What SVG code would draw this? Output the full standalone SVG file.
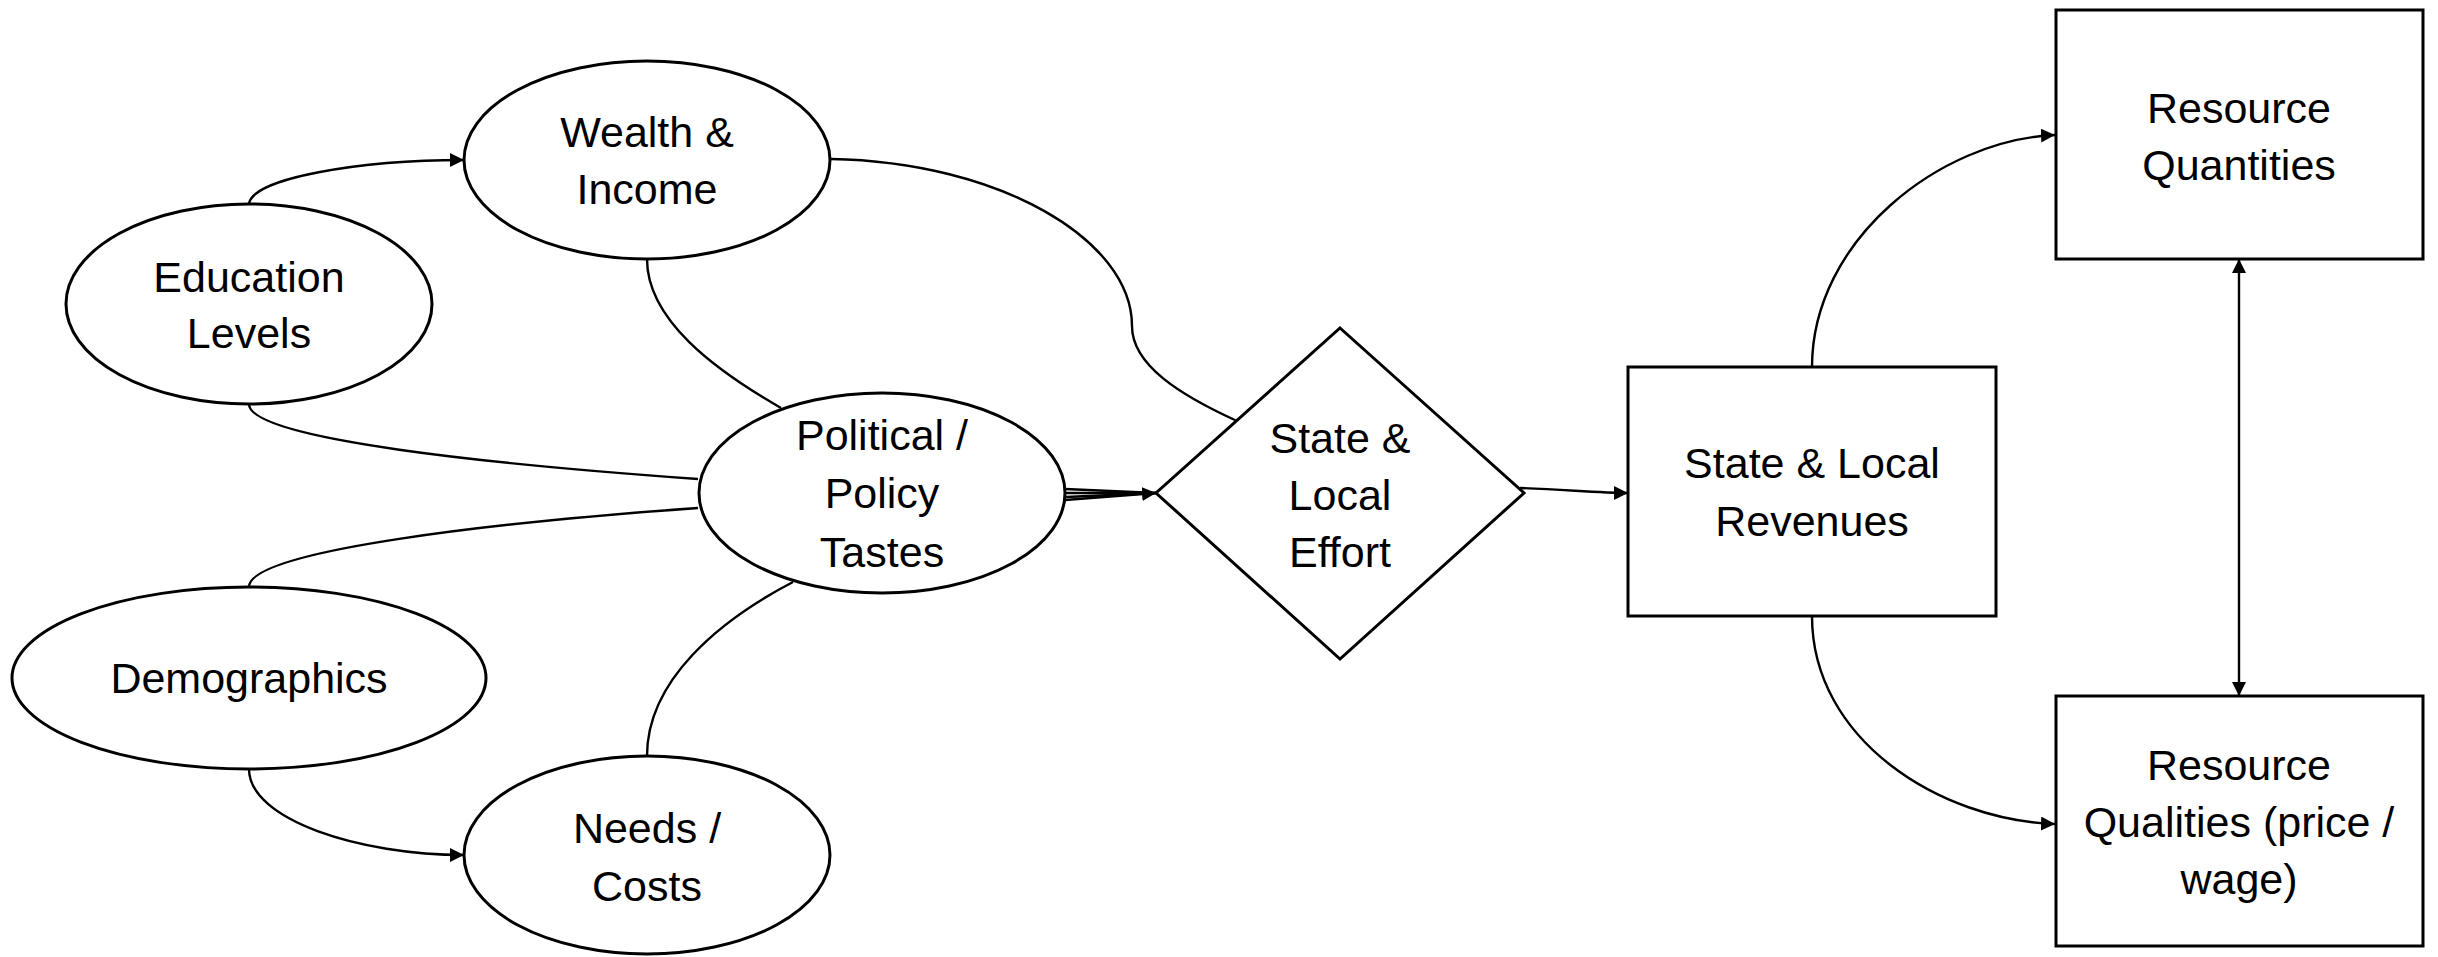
<svg xmlns="http://www.w3.org/2000/svg" width="2438" height="957" viewBox="0 0 2438 957">
<style>
.shape{fill:#fff;stroke:#000;stroke-width:3}
.conn{fill:none;stroke:#000;stroke-width:2.4}
.lbl{font-family:"Liberation Sans",Arial,sans-serif;font-size:43px;fill:#000;text-anchor:middle}
</style>
<defs>
<marker id="arr" markerUnits="userSpaceOnUse" markerWidth="14" markerHeight="14" refX="14" refY="7" orient="auto-start-reverse">
<path d="M0,0 L14,7 L0,14 z" fill="#000"/>
</marker>
</defs>
<rect width="2438" height="957" fill="#fff"/>
<g id="connectors">
<path class="conn" d="M249,204 C252,178 360,160 464,160" marker-end="url(#arr)"/>
<path class="conn" d="M647,259 C647,320 715,370 781,408"/>
<path class="conn" d="M831,159 C1000,162 1132,240 1132,326 C1132,365 1180,395 1237,421"/>
<path class="conn" d="M249,404 C249,440 500,465 698,479"/>
<path class="conn" d="M249,587 C249,550 500,522 698,508"/>
<path class="conn" d="M249,769 C249,820 360,855 464,855" marker-end="url(#arr)"/>
<path class="conn" d="M647,756 C647,680 720,620 793,582"/>
<path class="conn" d="M1065,489 L1156,493"/>
<path class="conn" d="M1066,493 L1156,493"/>
<path class="conn" d="M1066,497 L1156,493"/>
<path class="conn" d="M1065,500 L1156,493" marker-end="url(#arr)"/>
<path class="conn" d="M1520,488 C1570,490 1600,493 1628,493" marker-end="url(#arr)"/>
<path class="conn" d="M1812,367 C1812,240 1940,140 2055,135" marker-end="url(#arr)"/>
<path class="conn" d="M1812,616 C1812,740 1940,820 2055,824" marker-end="url(#arr)"/>
<path class="conn" d="M2239,259 L2239,696" marker-start="url(#arr)" marker-end="url(#arr)"/>
</g>
<g id="education">
<ellipse class="shape" cx="249" cy="304" rx="183" ry="100"/>
<text class="lbl" x="249" y="292">Education</text>
<text class="lbl" x="249" y="348">Levels</text>
</g>
<g id="wealth">
<ellipse class="shape" cx="647" cy="160" rx="183" ry="99"/>
<text class="lbl" x="647" y="147">Wealth &amp;</text>
<text class="lbl" x="647" y="204">Income</text>
</g>
<g id="demographics">
<ellipse class="shape" cx="249" cy="678" rx="237" ry="91"/>
<text class="lbl" x="249" y="693">Demographics</text>
</g>
<g id="needs">
<ellipse class="shape" cx="647" cy="855" rx="183" ry="99"/>
<text class="lbl" x="647" y="843">Needs /</text>
<text class="lbl" x="647" y="901">Costs</text>
</g>
<g id="political">
<ellipse class="shape" cx="882" cy="493" rx="183" ry="100"/>
<text class="lbl" x="882" y="450">Political /</text>
<text class="lbl" x="882" y="508">Policy</text>
<text class="lbl" x="882" y="567">Tastes</text>
</g>
<g id="effort">
<polygon class="shape" points="1340,328 1524,493 1340,659 1156,493"/>
<text class="lbl" x="1340" y="453">State &amp;</text>
<text class="lbl" x="1340" y="510">Local</text>
<text class="lbl" x="1340" y="567">Effort</text>
</g>
<g id="revenues">
<rect class="shape" x="1628" y="367" width="368" height="249"/>
<text class="lbl" x="1812" y="478">State &amp; Local</text>
<text class="lbl" x="1812" y="536">Revenues</text>
</g>
<g id="quantities">
<rect class="shape" x="2056" y="10" width="367" height="249"/>
<text class="lbl" x="2239" y="123">Resource</text>
<text class="lbl" x="2239" y="180">Quantities</text>
</g>
<g id="qualities">
<rect class="shape" x="2056" y="696" width="367" height="250"/>
<text class="lbl" x="2239" y="780">Resource</text>
<text class="lbl" x="2239" y="837">Qualities (price /</text>
<text class="lbl" x="2239" y="894">wage)</text>
</g>
</svg>
